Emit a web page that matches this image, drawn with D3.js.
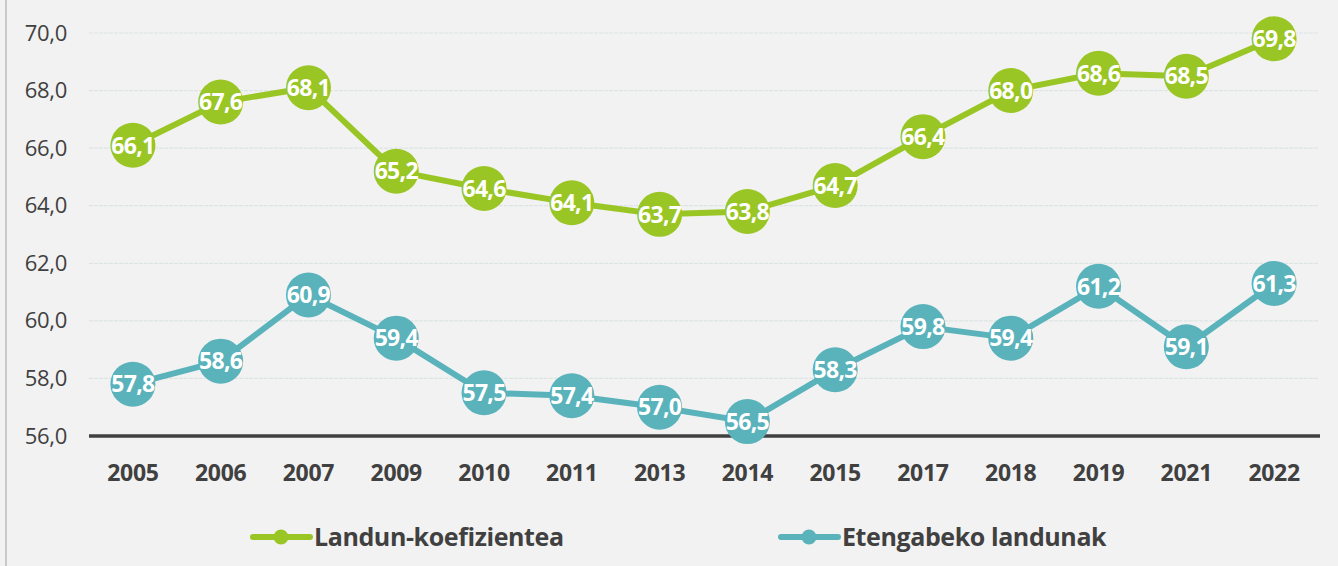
<!DOCTYPE html>
<html>
<head>
<meta charset="utf-8">
<script src="https://cdn.jsdelivr.net/npm/d3@7"></script>
<style>
  html, body { margin: 0; padding: 0; background: #f2f2f2; }
  svg { display: block; font-family: "Open Sans", sans-serif; }
</style>
</head>
<body>
<div class="chart"></div>
<script>
// data
var years = ['2005', '2006', '2007', '2009', '2010', '2011', '2013', '2014', '2015', '2017', '2018', '2019', '2021', '2022'];
var landunKoef = [66.1, 67.6, 68.1, 65.2, 64.6, 64.1, 63.7, 63.8, 64.7, 66.4, 68.0, 68.6, 68.5, 69.8];
var etengabeko = [57.8, 58.6, 60.9, 59.4, 57.5, 57.4, 57.0, 56.5, 58.3, 59.8, 59.4, 61.2, 59.1, 61.3];
var yTicks = [56, 58, 60, 62, 64, 66, 68, 70];
var seriesNames = ['Landun-koefizientea', 'Etengabeko landunak'];
var seriesColors = ['#99c624', '#5ab2bb'];

var width = 1338, height = 566;
var fmt = function(v) { return d3.format('.1f')(v).replace('.', ','); };

var svg = d3.select('.chart').append('svg').attr('width', width).attr('height', height);

svg.append('rect').attr('width', width).attr('height', height).attr('fill', '#f2f2f2');
// left frame edge
svg.append('line').attr('x1', 6).attr('x2', 6).attr('y1', 0).attr('y2', height)
  .attr('stroke', '#c9c9c9').attr('stroke-width', 2);

var x = d3.scaleBand().domain(years).range([89, 1318]);
var y = d3.scaleLinear().domain([56, 70]).range([436, 33]);

// gridlines
svg.append('g').selectAll('line').data(yTicks.slice(1)).enter().append('line')
  .attr('x1', 89).attr('x2', 1319)
  .attr('y1', function(d) { return y(d); }).attr('y2', function(d) { return y(d); })
  .attr('stroke', '#dde4e4').attr('stroke-width', 1.2).attr('stroke-dasharray', '4,1');

// y axis
var yAxis = svg.append('g').attr('transform', 'translate(67,0)')
  .call(d3.axisLeft(y).tickValues(yTicks).tickSize(0).tickPadding(0).tickFormat(fmt));
yAxis.select('.domain').remove();
yAxis.selectAll('text').attr('font-size', 22).attr('fill', '#404040')
  .attr('font-family', '"Open Sans", sans-serif').attr('letter-spacing', -0.3);

// x axis
var xAxis = svg.append('g').attr('transform', 'translate(0,' + y(56) + ')')
  .call(d3.axisBottom(x).tickSize(0).tickPadding(29));
xAxis.select('.domain').attr('stroke', '#404040').attr('stroke-width', 3.5).attr('d', 'M89,0H1320');
xAxis.selectAll('text').attr('font-size', 23).attr('font-weight', 'bold').attr('fill', '#404040')
  .attr('font-family', '"Open Sans", sans-serif').attr('letter-spacing', -0.3);

// series
var series = [landunKoef, etengabeko];
var line = d3.line()
  .x(function(d, i) { return x(years[i]) + x.bandwidth() / 2; })
  .y(function(d) { return y(d); });

series.forEach(function(vals, s) {
  var g = svg.append('g');
  g.append('path').datum(vals).attr('d', line).attr('fill', 'none')
    .attr('stroke', seriesColors[s]).attr('stroke-width', 6).attr('stroke-linejoin', 'round');
  var pts = g.selectAll('.pt').data(vals).enter().append('g')
    .attr('transform', function(d, i) { return 'translate(' + (x(years[i]) + x.bandwidth() / 2) + ',' + y(d) + ')'; });
  pts.append('circle').attr('r', 22.5).attr('fill', seriesColors[s]);
  pts.append('text').text(fmt).attr('text-anchor', 'middle').attr('dy', '0.36em')
    .attr('font-size', 23).attr('font-weight', 'bold').attr('fill', '#ffffff').attr('letter-spacing', -0.7);
});

// legend
var legendX = [253, 781];
seriesNames.forEach(function(name, s) {
  var lg = svg.append('g').attr('transform', 'translate(' + legendX[s] + ',537)');
  lg.append('line').attr('x1', 0).attr('x2', 57).attr('stroke', seriesColors[s])
    .attr('stroke-width', 6).attr('stroke-linecap', 'round');
  lg.append('circle').attr('cx', 28).attr('r', 7.5).attr('fill', seriesColors[s]);
  lg.append('text').attr('x', 61).attr('dy', '0.36em').text(name)
    .attr('font-size', 25).attr('font-weight', 'bold').attr('fill', '#404040').attr('letter-spacing', -0.4);
});
</script>
</body>
</html>
